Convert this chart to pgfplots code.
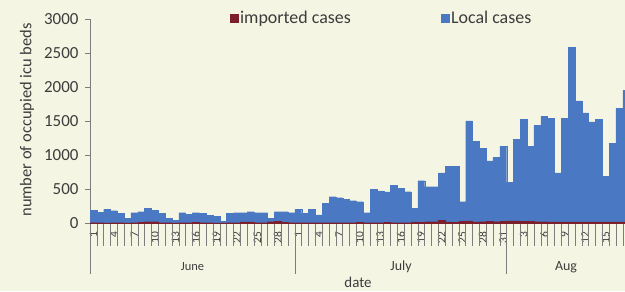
\documentclass[border=0pt]{standalone}
\usepackage{pgfplots}
\pgfplotsset{compat=1.18}
\usepackage{fontspec}
\setmainfont{Carlito}
\definecolor{bg}{RGB}{245,245,228}
\definecolor{locblue}{RGB}{74,120,194}
\definecolor{impred}{RGB}{122,31,43}
\definecolor{txt}{RGB}{60,60,60}
\definecolor{axg}{RGB}{125,125,125}
\begin{document}
\begin{tikzpicture}[x=1bp,y=1bp]
\fill[bg] (0,0) rectangle (625,291);
\useasboundingbox (0,0) rectangle (625,291);
\begin{axis}[
 at={(90bp,67.7bp)}, anchor=south west,
 width=535bp, height=204.3bp, scale only axis,
 xmin=0.5, xmax=78.83, ymin=0, ymax=3000,
 ybar stacked, bar width=1,
 axis x line=bottom, axis y line=left,
 axis line style={axg, line width=0.7bp, -},
 tick align=outside, major tick length=5bp,
 tick style={axg, line width=0.6bp},
 ytick={0,500,...,3000},
 /pgf/number format/assume math mode=true,
 /pgf/number format/1000 sep={},
 yticklabel style={font=\fontsize{17}{17}\selectfont, text=txt, xshift=-3bp},
 xtick={1,4,...,79},
 xticklabels={1,4,7,10,13,16,19,22,25,28,1,4,7,10,13,16,19,22,25,28,31,3,6,9,12,15,18},
 xtick style={draw=none},
 xticklabel style={rotate=90, anchor=east, font=\fontsize{11.5}{11.5}\selectfont, text=txt},
 legend style={at={(axis description cs:0.545,1.005)}, anchor=center, draw=none, fill=none,
   font=\fontsize{18}{18}\selectfont, text=txt,
   /tikz/every even column/.append style={column sep=88bp}},
 legend columns=2,
 legend image code/.code={\fill[#1] (0bp,-4bp) rectangle (8bp,4bp);},
 clip=false,
]
\addplot[fill=impred, draw=impred, line width=0.2bp] coordinates {
(1,10)(2,10)(3,5)(4,10)(5,10)(6,5)(7,10)(8,15)(9,25)(10,25)(11,10)(12,10)(13,5)(14,10)(15,10)
(16,15)(17,10)(18,10)(19,5)(20,5)(21,10)(22,10)(23,20)(24,20)(25,10)(26,10)(27,25)(28,30)(29,15)(30,10)
(31,10)(32,10)(33,10)(34,10)(35,10)(36,10)(37,10)(38,10)(39,10)(40,15)(41,10)(42,10)(43,10)(44,15)(45,10)
(46,10)(47,10)(48,20)(49,15)(50,25)(51,25)(52,45)(53,20)(54,15)(55,30)(56,35)(57,20)(58,25)(59,30)(60,25)(61,30)
(62,35)(63,35)(64,30)(65,30)(66,25)(67,25)(68,20)(69,20)(70,20)(71,20)(72,20)(73,20)(74,20)(75,20)(76,20)(77,20)(78,20)(79,20)
};
\addplot[fill=locblue, draw=locblue, line width=0.3bp] coordinates {
(1,185)(2,150)(3,200)(4,175)(5,135)(6,70)(7,145)(8,155)(9,195)(10,170)(11,135)(12,65)(13,35)(14,145)(15,125)
(16,140)(17,135)(18,110)(19,95)(20,20)(21,135)(22,145)(23,135)(24,150)(25,145)(26,145)(27,50)(28,140)(29,155)(30,145)
(31,195)(32,136)(33,195)(34,112)(35,283)(36,380)(37,366)(38,341)(39,322)(40,302)(41,146)(42,488)(43,468)(44,445)(45,551)
(46,502)(47,454)(48,200)(49,610)(50,512)(51,512)(52,697)(53,820)(54,825)(55,287)(56,1468)(57,1185)(58,1073)(59,888)(60,941)(61,1102)
(62,565)(63,1195)(64,1493)(65,1102)(66,1410)(67,1546)(68,1517)(69,722)(70,1517)(71,2567)(72,1776)(73,1600)(74,1469)(75,1503)(76,673)(77,1151)(78,1664)(79,1930)
};
\legend{imported cases, Local cases}
\pgfplotsinvokeforeach{1.5,2.5,...,78.5}{
  \draw[axg, line width=0.5bp] (axis cs:#1,0) -- ++(0pt,-23bp);
}
\draw[axg, line width=0.7bp] (axis cs:0.5,0) -- ++(0pt,-51bp);
\draw[axg, line width=0.7bp] (axis cs:30.5,0) -- ++(0pt,-51bp);
\draw[axg, line width=0.7bp] (axis cs:61.5,0) -- ++(0pt,-51bp);
\end{axis}
\node[font=\fontsize{12.5}{12.5}\selectfont, text=txt] at (192.5,24) {June};
\node[font=\fontsize{14}{14}\selectfont, text=txt] at (401,24) {July};
\node[font=\fontsize{14}{14}\selectfont, text=txt] at (566,24) {Aug};
\node[font=\fontsize{15}{15}\selectfont, text=txt, anchor=base, inner sep=0pt] at (358,4) {date};
\node[font=\fontsize{16.5}{16.5}\selectfont, text=txt, rotate=90] at (27,171) {number of occupied icu beds};
\end{tikzpicture}
\end{document}
